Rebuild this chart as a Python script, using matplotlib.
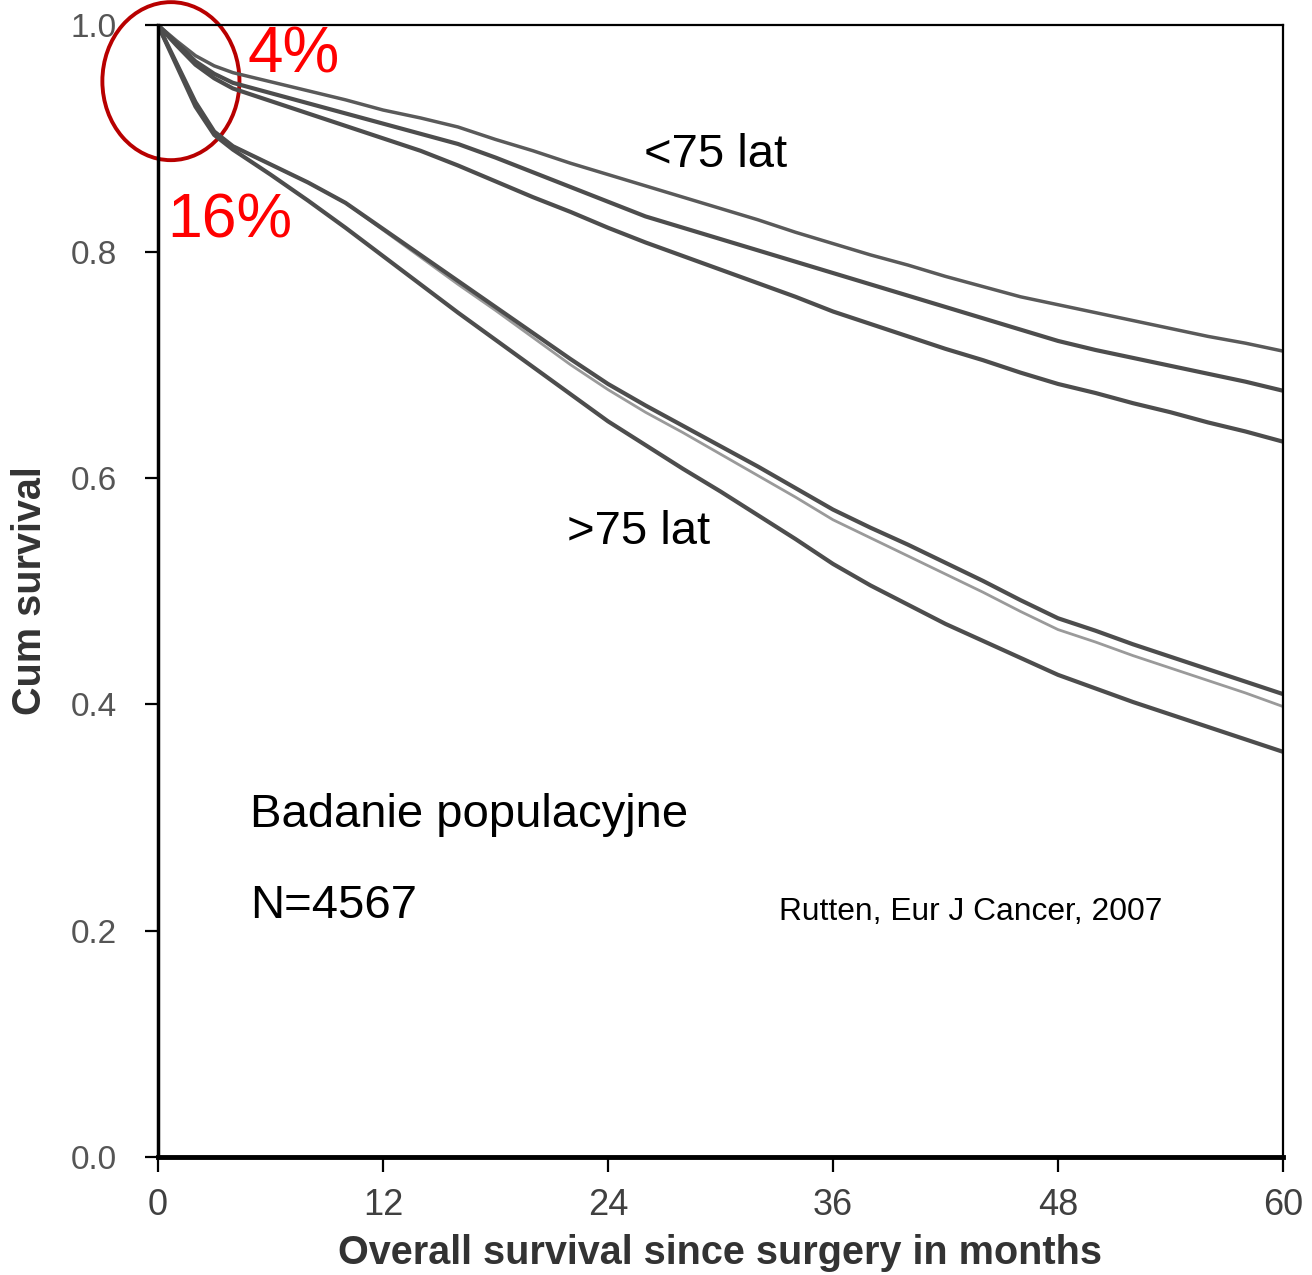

# Kaplan-Meier style survival curves: <75 lat vs >75 lat
import matplotlib
matplotlib.use('Agg')
import matplotlib.pyplot as plt
from matplotlib.patches import Ellipse
import numpy as np

plt.rcParams['font.family'] = ['Liberation Sans', 'DejaVu Sans']

# months since surgery
months = [0, 1, 2, 3, 4, 6, 8, 10, 12, 14, 16, 18, 20, 22, 24, 26, 28, 30,
          32, 34, 36, 38, 40, 42, 44, 46, 48, 50, 52, 54, 56, 58, 60]

# <75 lat (three curves)
young_top = [1.0, 0.986, 0.973, 0.964, 0.958, 0.950, 0.942, 0.934, 0.925, 0.918,
             0.910, 0.899, 0.889, 0.878, 0.868, 0.858, 0.848, 0.838, 0.828, 0.817,
             0.807, 0.797, 0.788, 0.778, 0.769, 0.760, 0.753, 0.746, 0.739, 0.732,
             0.725, 0.719, 0.712]
young_mid = [1.0, 0.984, 0.968, 0.957, 0.949, 0.940, 0.931, 0.922, 0.913, 0.904,
             0.895, 0.883, 0.870, 0.857, 0.844, 0.831, 0.821, 0.811, 0.801, 0.791,
             0.781, 0.771, 0.761, 0.751, 0.741, 0.731, 0.721, 0.713, 0.706, 0.699,
             0.692, 0.685, 0.677]
young_low = [1.0, 0.982, 0.965, 0.953, 0.944, 0.933, 0.922, 0.911, 0.900, 0.889,
             0.876, 0.862, 0.848, 0.835, 0.821, 0.808, 0.796, 0.784, 0.772, 0.760,
             0.747, 0.736, 0.725, 0.714, 0.704, 0.693, 0.683, 0.675, 0.666, 0.658,
             0.649, 0.641, 0.632]

# >75 lat (three curves, one drawn in light grey)
old_top = [1.0, 0.966, 0.932, 0.906, 0.893, 0.877, 0.861, 0.843, 0.820, 0.797,
           0.774, 0.751, 0.728, 0.705, 0.683, 0.664, 0.646, 0.628, 0.610, 0.591,
           0.572, 0.556, 0.541, 0.525, 0.509, 0.492, 0.476, 0.465, 0.453, 0.442,
           0.431, 0.420, 0.409]
old_light = [1.0, 0.966, 0.932, 0.906, 0.893, 0.877, 0.861, 0.843, 0.819, 0.795,
             0.771, 0.748, 0.724, 0.700, 0.678, 0.658, 0.640, 0.621, 0.602, 0.583,
             0.563, 0.547, 0.531, 0.515, 0.499, 0.482, 0.466, 0.455, 0.443, 0.432,
             0.421, 0.410, 0.398]
old_low = [1.0, 0.964, 0.928, 0.903, 0.890, 0.868, 0.845, 0.821, 0.796, 0.771,
           0.746, 0.722, 0.698, 0.674, 0.650, 0.629, 0.608, 0.588, 0.567, 0.546,
           0.524, 0.505, 0.488, 0.471, 0.456, 0.441, 0.426, 0.414, 0.402, 0.391,
           0.380, 0.369, 0.358]

x_ticks = [0, 12, 24, 36, 48, 60]
y_ticks = [0.0, 0.2, 0.4, 0.6, 0.8, 1.0]

fig = plt.figure(figsize=(13.12, 12.75), dpi=100)
ax = fig.add_axes([0.1204, 0.0925, 0.8575, 0.8878])

# draw curves
dark = '#4d4d4d'
ax.plot(months, young_top, color='#5a5a5a', lw=2.5)
ax.plot(months, young_mid, color=dark, lw=3.0)
ax.plot(months, young_low, color=dark, lw=3.0)
ax.plot(months, old_light, color='#9a9a9a', lw=2.0)
ax.plot(months, old_top, color=dark, lw=3.0)
ax.plot(months, old_low, color=dark, lw=3.0)

ax.set_xlim(0, 60)
ax.set_ylim(0, 1.0)

# axes frame
ax.spines['left'].set_linewidth(2.5)
ax.spines['bottom'].set_linewidth(3.5)
ax.spines['top'].set_linewidth(1.6)
ax.spines['right'].set_linewidth(1.6)

ax.set_xticks(x_ticks)
ax.set_xticklabels([str(t) for t in x_ticks], color='#404040', fontsize=26)
ax.set_yticks(y_ticks)
ax.set_yticklabels(['%.1f' % t for t in y_ticks], color='#555555', fontsize=24)
ax.tick_params(axis='x', direction='out', length=11, width=1.6, pad=11)
ax.tick_params(axis='y', direction='out', length=9.5, width=1.6, pad=20)

# axis labels
ax.set_ylabel('Cum survival', fontsize=28.5, fontweight='bold', color='#333333',
              labelpad=16)
fig.text(0.549, 0.0085, 'Overall survival since surgery in months', fontsize=28.5,
         fontweight='bold', color='#333333', ha='center', va='baseline')

# annotations
ax.text(25.9, 0.875, '<75 lat', fontsize=34, va='baseline')
ax.text(21.8, 0.542, '>75 lat', fontsize=34, va='baseline')
ax.text(4.9, 0.292, 'Badanie populacyjne', fontsize=34, va='baseline')
ax.text(4.9, 0.211, 'N=4567', fontsize=34, va='baseline')
ax.text(33.1, 0.209, 'Rutten, Eur J Cancer, 2007', fontsize=22.9, va='baseline')
ax.text(4.8, 0.9585, '4%', fontsize=46, color='#ff0000', va='baseline')
ax.text(0.5, 0.8127, '16%', fontsize=45, color='#ff0000', va='baseline')

# circle around the early drop
ax.add_patch(Ellipse((0.69, 0.9505), 7.31, 0.1396, fill=False,
                     edgecolor='#b80000', lw=2.8, clip_on=False))

plt.savefig('out.png', dpi=100)
